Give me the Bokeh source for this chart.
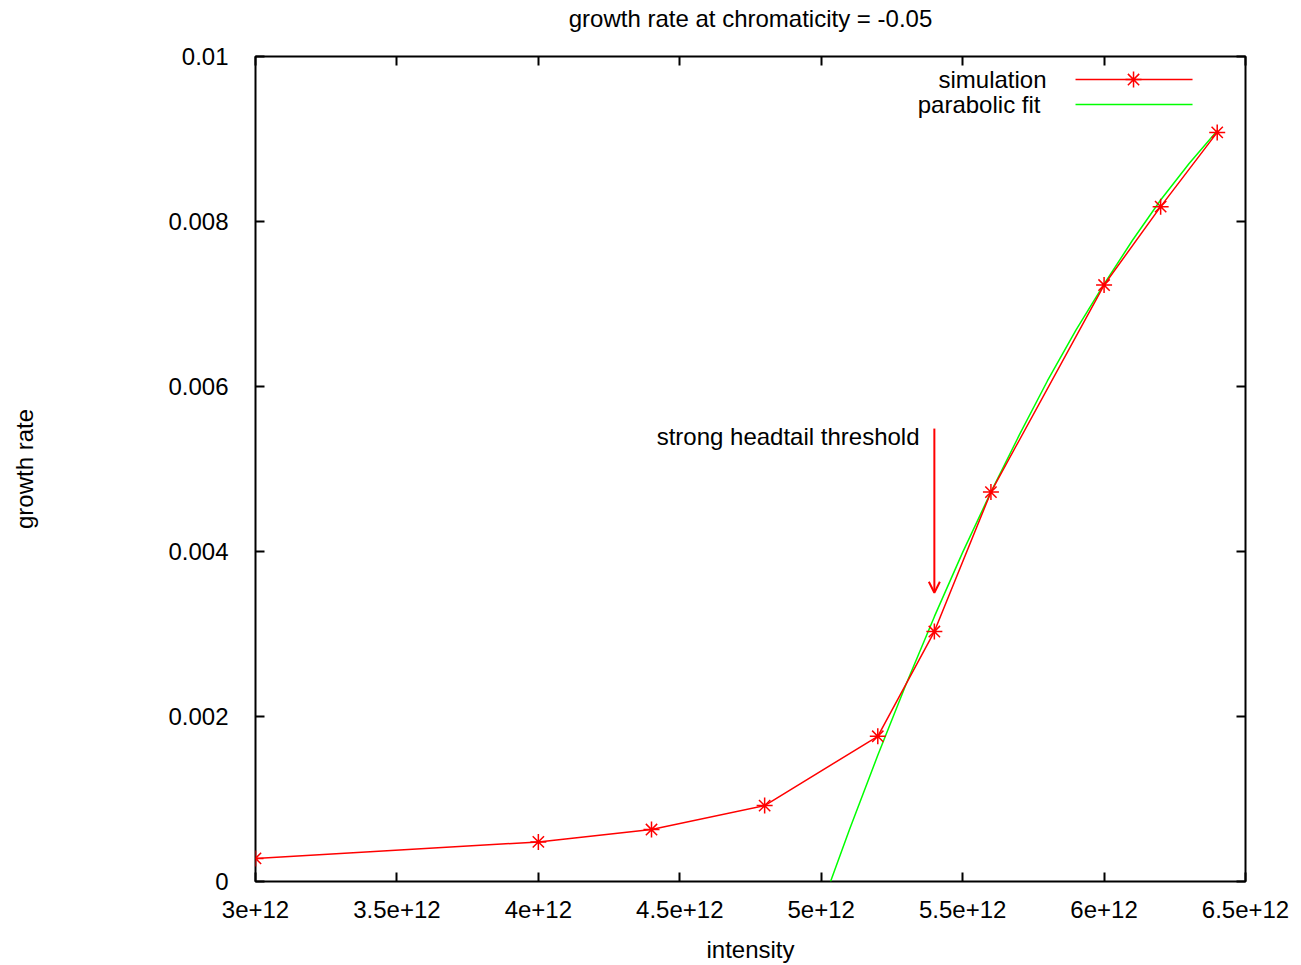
from bokeh.plotting import figure
from bokeh.models import Range1d, LinearAxis, FixedTicker, Arrow, OpenHead, Label
from bokeh.embed import file_html
from bokeh.resources import INLINE

# ---- data ----
intensity = [3.0e12, 4.0e12, 4.4e12, 4.8e12, 5.2e12, 5.4e12, 5.6e12, 6.0e12, 6.2e12, 6.4e12]
growth = [0.00028, 0.00048, 0.00063, 0.00092, 0.00176, 0.00303, 0.00472, 0.00723, 0.00818, 0.00908]

fit_intensity = [5.033e12, 5.1e12, 5.2e12, 5.3e12, 5.4e12, 5.5e12, 5.6e12, 5.7e12, 5.8e12,
                 5.9e12, 6.0e12, 6.1e12, 6.2e12, 6.3e12, 6.4e12]
fit_growth = [0.0, 0.00063, 0.00153, 0.00239, 0.00321, 0.00399, 0.00472, 0.00541, 0.00607,
              0.00668, 0.00724, 0.00777, 0.00826, 0.00870, 0.00910]

x_ticks = [3.0e12, 3.5e12, 4.0e12, 4.5e12, 5.0e12, 5.5e12, 6.0e12, 6.5e12]
x_tick_labels = ["3e+12", "3.5e+12", "4e+12", "4.5e+12", "5e+12", "5.5e+12", "6e+12", "6.5e+12"]
y_ticks = [0.0, 0.002, 0.004, 0.006, 0.008, 0.01]
y_tick_labels = ["0", "0.002", "0.004", "0.006", "0.008", "0.01"]

threshold_x = 5.4e12
title_text = "growth rate at chromaticity = -0.05"
annotation_text = "strong headtail threshold"
series_names = ["simulation", "parabolic fit"]

FONT = "Liberation Sans"
FS = "24px"
RED = "#ff0000"
GREEN = "#00ff00"

X0, X1 = 3.0e12, 6.5e12
Y0, Y1 = 0.0, 0.01

p = figure(width=1301, height=965, x_range=Range1d(X0, X1), y_range=Range1d(Y0, Y1),
           output_backend="svg", toolbar_location=None,
           min_border_left=255, min_border_right=56, min_border_top=56, min_border_bottom=84)

p.outline_line_color = "black"
p.outline_line_width = 2
p.outline_line_alpha = 1.0
p.xgrid.visible = False
p.ygrid.visible = False
p.background_fill_color = "white"
p.border_fill_color = "white"

def style_axis(ax, ticks, labels):
    ax.ticker = FixedTicker(ticks=ticks, minor_ticks=[])
    ax.major_label_overrides = {t: l for t, l in zip(ticks, labels)}
    ax.axis_line_color = None
    ax.major_tick_in = 9
    ax.major_tick_out = 0
    ax.major_tick_line_width = 2
    ax.major_tick_line_color = "black"
    ax.minor_tick_line_color = None
    ax.major_label_text_font = FONT
    ax.major_label_text_font_size = FS
    ax.major_label_text_color = "black"
    ax.axis_label_text_font = FONT
    ax.axis_label_text_font_size = FS
    ax.axis_label_text_font_style = "normal"
    ax.axis_label_text_color = "black"

style_axis(p.xaxis[0], x_ticks, x_tick_labels)
style_axis(p.yaxis[0], y_ticks, y_tick_labels)
p.xaxis[0].axis_label = "intensity"
p.xaxis[0].major_label_standoff = 19
p.xaxis[0].axis_label_standoff = 15
p.yaxis[0].axis_label = "growth rate"
p.yaxis[0].major_label_standoff = 27
p.yaxis[0].axis_label_standoff = 127

# mirrored ticks on top (carrying the chart title as its label) and on the right
for loc, ticks in (("above", x_ticks), ("right", y_ticks)):
    ax = LinearAxis(ticker=FixedTicker(ticks=ticks, minor_ticks=[]),
                    axis_line_color=None, major_tick_in=9, major_tick_out=0,
                    major_tick_line_width=2, minor_tick_line_color=None,
                    major_label_text_font_size="0px", major_label_standoff=0,
                    axis_label_standoff=0)
    if loc == "above":
        ax.axis_label = title_text
        ax.axis_label_text_font = FONT
        ax.axis_label_text_font_size = FS
        ax.axis_label_text_font_style = "normal"
        ax.axis_label_text_color = "black"
        ax.axis_label_standoff = 25
    p.add_layout(ax, loc)

# data
p.line(fit_intensity, fit_growth, line_color=GREEN, line_width=1.5)
p.line(intensity, growth, line_color=RED, line_width=1.5)
p.scatter(intensity, growth, marker="asterisk", size=16, line_color=RED, line_width=1.5)

# helpers for decoration placement relative to the frame
def fx(f):
    return X0 + f * (X1 - X0)

def fy(f):
    return Y0 + f * (Y1 - Y0)

# annotation arrow
p.add_layout(Arrow(end=OpenHead(size=11, line_color=RED, line_width=2),
                   x_start=threshold_x, y_start=0.00549, x_end=threshold_x, y_end=0.00350,
                   line_color=RED, line_width=2))
p.add_layout(Label(x=threshold_x - 0.0525e12, y=0.00539, text=annotation_text,
                   text_align="right", text_baseline="middle",
                   text_font=FONT, text_font_size=FS, text_color="black"))

# legend (gnuplot style: right-justified text, sample on the right)
leg_y = [fy(0.9721), fy(0.9418)]
leg_text_right = [fx(0.7990), fx(0.7929)]
s0, s1, smid = fx(0.8283), fx(0.9465), fx(0.8869)
p.line([s0, s1], [leg_y[0], leg_y[0]], line_color=RED, line_width=1.5)
p.scatter([smid], [leg_y[0]], marker="asterisk", size=16, line_color=RED, line_width=1.5)
p.line([s0, s1], [leg_y[1], leg_y[1]], line_color=GREEN, line_width=1.5)
for name, tx, ty in zip(series_names, leg_text_right, leg_y):
    p.add_layout(Label(x=tx, y=ty, text=name, text_align="right", text_baseline="middle",
                       text_font=FONT, text_font_size=FS, text_color="black"))

open("out.html", "w").write(file_html(p, INLINE))
